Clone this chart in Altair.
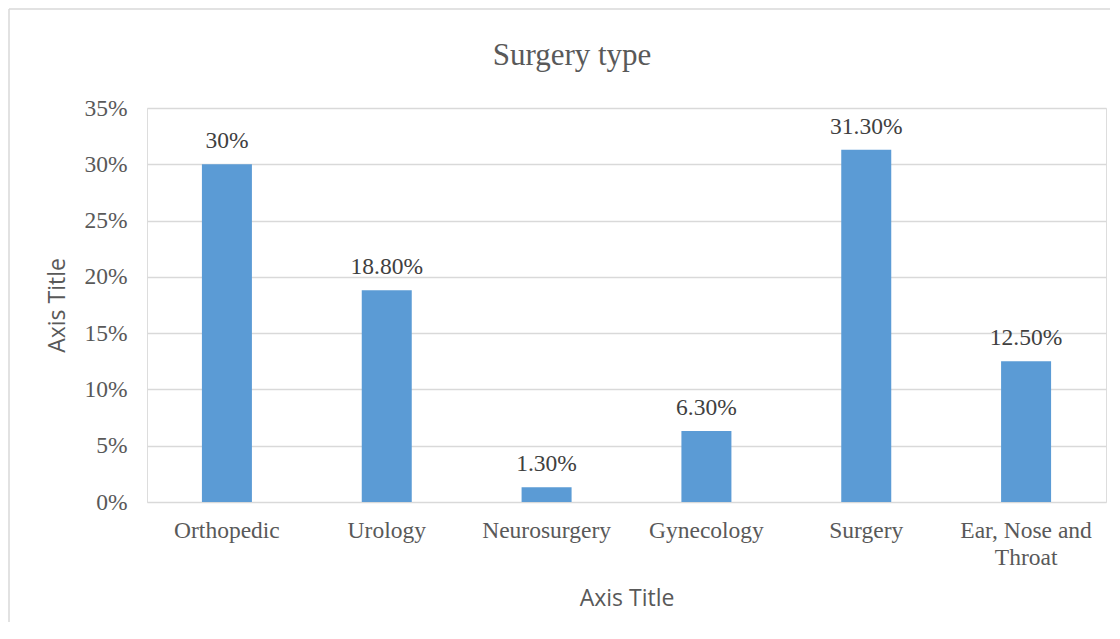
import altair as alt
import pandas as pd

categories = ["Orthopedic", "Urology", "Neurosurgery", "Gynecology", "Surgery", "Ear, Nose and Throat"]
values = [30.0, 18.8, 1.3, 6.3, 31.3, 12.5]
labels = ["30%", "18.80%", "1.30%", "6.30%", "31.30%", "12.50%"]
y_ticks = [0, 5, 10, 15, 20, 25, 30, 35]
chart_title = "Surgery type"

df = pd.DataFrame({"cat": categories, "val": values, "lab": labels})

W, H = 959, 394
SERIF = "Liberation Serif"
SANS = "Open Sans"

x_enc = alt.X(
    "cat:N", sort=categories,
    scale=alt.Scale(paddingInner=0, paddingOuter=0),
    axis=alt.Axis(
        title="Axis Title", titleFont=SANS, titleFontSize=23, titleFontWeight="normal",
        titleColor="#595959", titlePadding=19,
        labelFont=SERIF, labelFontSize=23.5, labelColor="#595959", labelAngle=0,
        labelPadding=16, labelLineHeight=27, labelLimit=300,
        labelExpr="datum.label == 'Ear, Nose and Throat' ? ['Ear, Nose and', 'Throat'] : datum.label",
        ticks=False, domain=False, grid=False,
    ),
)
y_enc = alt.Y(
    "val:Q",
    scale=alt.Scale(domain=[0, 35], nice=False),
    axis=alt.Axis(
        title="Axis Title", titleFont=SANS, titleFontSize=23, titleFontWeight="normal",
        titleColor="#595959", titlePadding=14,
        values=y_ticks, labelExpr="datum.value + '%'",
        labelFont=SERIF, labelFontSize=23.5, labelColor="#595959", labelPadding=20,
        ticks=False, domain=False, grid=True, gridColor="#d9d9d9", gridWidth=1.5,
    ),
)

base = alt.Chart(df)
bars = base.mark_bar(color="#5B9BD5", size=50).encode(x=x_enc, y=y_enc)
text = base.mark_text(font=SERIF, fontSize=23.5, color="#404040", baseline="alphabetic", dy=-16).encode(
    x=alt.X("cat:N", sort=categories), y="val:Q", text="lab:N"
)

one = pd.DataFrame({"t": [chart_title]})
title_mark = alt.Chart(one).mark_text(
    font=SERIF, fontSize=31, color="#595959", baseline="alphabetic", align="center"
).encode(x=alt.value(425), y=alt.value(-43), text="t:N")

top_line = alt.Chart(one).mark_rule(color="#d9d9d9", strokeWidth=1.5).encode(
    x=alt.value(-138), x2=alt.value(W + 4), y=alt.value(-99)
)
left_line = alt.Chart(one).mark_rule(color="#d9d9d9", strokeWidth=1.5).encode(
    x=alt.value(-138), y=alt.value(-99), y2=alt.value(H + 120)
)

chart = alt.layer(bars, text, title_mark, top_line, left_line).properties(
    width=W, height=H, padding=0,
).configure_view(stroke=None).configure(background="white")

chart.save("out.html", embed_options={"renderer": "svg", "actions": False})
